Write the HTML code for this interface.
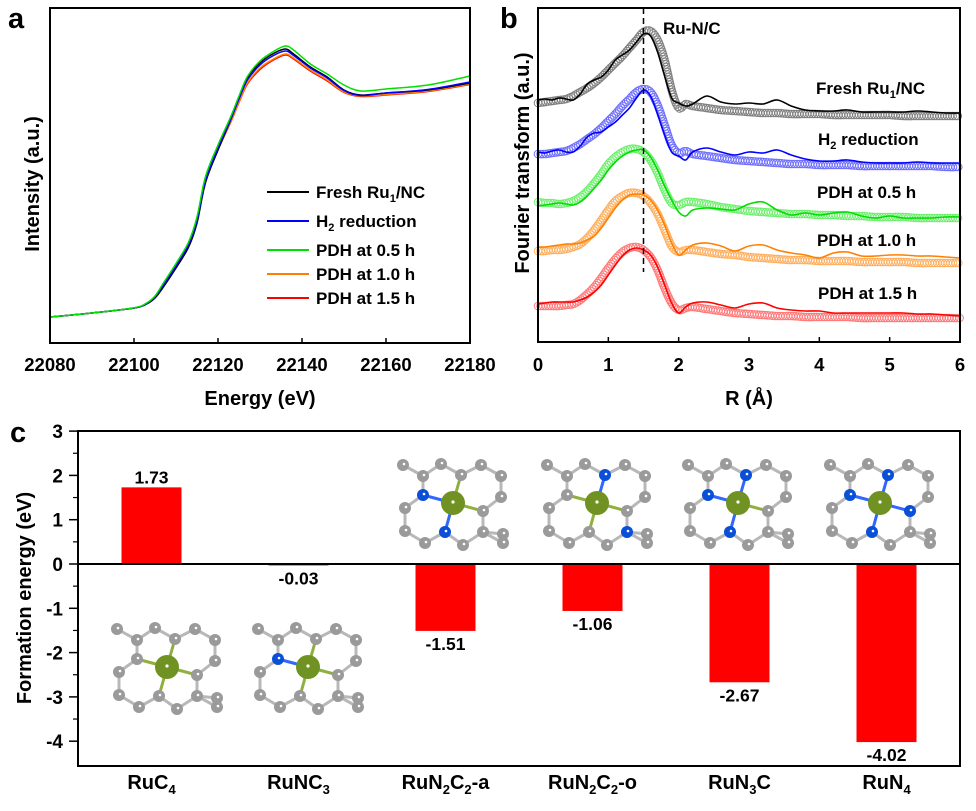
<!DOCTYPE html>
<html><head><meta charset="utf-8">
<style>
html,body{margin:0;padding:0;background:#fff;}
svg{display:block;font-family:"Liberation Sans",Arial,sans-serif;font-weight:bold;}
</style></head>
<body>
<svg id="fig" width="976" height="811" viewBox="0 0 976 811" xmlns="http://www.w3.org/2000/svg">
  <text x="8" y="28" font-size="29">a</text>
  <text x="500" y="28" font-size="29">b</text>
  <text x="10" y="442" font-size="29">c</text>
  <g id="pa"></g>
  <g id="pb"></g>
  <g id="pc"></g>
</svg>
<script>
// ---------- Panel a data ----------
const aEnergy = [22080,22090,22100,22103,22105,22107,22110,22113,22115,22117,22120,22123,22125,22127,22130,22133,22136,22138,22142,22146,22150,22154,22160,22170,22180];
const aFresh = [0,0.016,0.036,0.052,0.076,0.12,0.196,0.28,0.376,0.536,0.668,0.788,0.876,0.956,1.016,1.052,1.072,1.052,1.0,0.96,0.908,0.888,0.896,0.908,0.936];
const aH2    = [0,0.016,0.036,0.054,0.08,0.128,0.204,0.29,0.386,0.544,0.676,0.79,0.872,0.948,1.008,1.044,1.064,1.046,0.996,0.956,0.906,0.886,0.896,0.91,0.94];
const aPDH05 = [0,0.016,0.037,0.056,0.084,0.136,0.214,0.3,0.4,0.56,0.688,0.8,0.884,0.962,1.024,1.06,1.084,1.068,1.012,0.972,0.928,0.904,0.912,0.928,0.964];
const aPDH10 = [0,0.016,0.036,0.054,0.08,0.126,0.2,0.286,0.382,0.54,0.668,0.78,0.86,0.936,0.996,1.03,1.052,1.036,0.988,0.948,0.9,0.884,0.89,0.904,0.932];
const aPDH15 = [0,0.016,0.036,0.054,0.08,0.126,0.2,0.286,0.382,0.54,0.668,0.778,0.858,0.932,0.99,1.026,1.048,1.032,0.984,0.944,0.898,0.882,0.888,0.902,0.93];
const aTicks = [22080,22100,22120,22140,22160,22180];
const aSeriesNames = ["Fresh Ru₁/NC","H₂ reduction","PDH at 0.5 h","PDH at 1.0 h","PDH at 1.5 h"];

// ---------- Panel b data ----------
const bR = [0,0.1,0.2,0.3,0.4,0.5,0.6,0.7,0.8,0.9,1.0,1.1,1.2,1.3,1.4,1.5,1.6,1.7,1.8,1.9,2.0,2.1,2.2,2.4,2.6,2.8,3.0,3.2,3.4,3.6,3.8,4.0,4.2,4.4,4.6,4.8,5.0,5.2,5.4,5.6,5.8,6.0];
const bFreshExp = [100,99,100,98,99,100,94,84,80,77,70,60,55,50,42,34,36,52,76,98,103,106,104,96,102,104,103,104,100,106,110,111,111,110,112,112,112,112,111,112,113,113];
const bFreshFit = [103,102,101,100,99,96,92,88,83,77,70,63,56,48,40,32,31,40,60,90,108,104,106,108,110,111,112,113,113,114,114,114,115,115,115,115,115,116,116,116,116,116];
const bH2Exp = [152,153,151,150,152,152,146,137,133,132,127,122,115,108,98,90,96,114,135,152,156,160,152,148,152,155,152,153,150,155,159,161,161,160,162,163,163,163,162,163,163,163];
const bH2Fit = [154,154,153,152,151,148,144,139,134,128,121,114,106,99,92,89,92,105,125,145,153,151,154,156,158,160,161,162,163,164,164,165,165,165,166,166,166,166,166,166,167,167];
const bP05Exp = [206,205,204,203,204,205,202,196,188,180,170,162,156,152,150,150,157,170,186,200,212,216,210,208,209,210,204,202,210,215,213,215,213,212,216,218,216,218,218,218,217,217];
const bP05Fit = [202,203,203,204,203,201,197,191,183,174,164,157,152,149,149,152,160,173,190,203,205,202,202,204,207,209,211,212,213,214,214,215,215,216,216,217,217,217,218,218,218,218];
const bP10Exp = [247,247,246,245,244,244,243,240,236,228,218,208,200,195,194,195,200,210,225,243,255,250,245,243,246,251,246,245,250,253,255,258,253,252,256,256,255,255,256,256,257,258];
const bP10Fit = [251,251,250,250,249,247,244,238,230,220,210,201,196,193,193,196,203,214,230,246,252,250,250,252,254,255,257,258,259,260,260,261,261,261,262,262,262,262,263,263,263,263];
const bP15Exp = [304,303,302,302,302,302,300,297,292,285,275,265,256,250,248,250,255,267,285,303,313,307,303,302,305,308,304,303,308,310,311,311,313,313,313,313,313,313,314,314,315,316];
const bP15Fit = [306,306,306,306,305,304,300,294,287,278,268,259,252,248,247,250,257,270,288,303,310,308,307,309,311,313,314,315,316,316,317,317,317,317,318,318,318,318,318,318,318,318];
const bTicks = [0,1,2,3,4,5,6];
const bLabels = ["Fresh Ru₁/NC","H₂ reduction","PDH at 0.5 h","PDH at 1.0 h","PDH at 1.5 h"];

// ---------- Panel c data ----------
const cCategories = ["RuC4","RuNC3","RuN2C2-a","RuN2C2-o","RuN3C","RuN4"];
const cValues = [1.73,-0.03,-1.51,-1.06,-2.67,-4.02];
const cValueLabels = ["1.73","-0.03","-1.51","-1.06","-2.67","-4.02"];
const cTicks = [3,2,1,0,-1,-2,-3,-4];

const NS = "http://www.w3.org/2000/svg";
function el(parent, tag, attrs, text){
  const e = document.createElementNS(NS, tag);
  for (const k in attrs) e.setAttribute(k, attrs[k]);
  if (text !== undefined) e.textContent = text;
  parent.appendChild(e);
  return e;
}
function smoothPath(pts){
  let d = "M" + pts[0][0].toFixed(2) + "," + pts[0][1].toFixed(2);
  for (let i = 0; i < pts.length - 1; i++){
    const p0 = pts[i-1] || pts[i], p1 = pts[i], p2 = pts[i+1], p3 = pts[i+2] || p2;
    const c1x = p1[0] + (p2[0]-p0[0])/6, c1y = p1[1] + (p2[1]-p0[1])/6;
    const c2x = p2[0] - (p3[0]-p1[0])/6, c2y = p2[1] - (p3[1]-p1[1])/6;
    d += " C" + c1x.toFixed(2)+","+c1y.toFixed(2)+" "+c2x.toFixed(2)+","+c2y.toFixed(2)+" "+p2[0].toFixed(2)+","+p2[1].toFixed(2);
  }
  return d;
}

// ================= Panel A =================
(function(){
  const g = document.getElementById("pa");
  const L=50, R=470, T=8, B=343;
  const xA = e => L + (e-22080)/(22180-22080)*(R-L);
  const yA = v => B - (v - (-0.104))/(1.236-(-0.104))*(B-T);
  const series = [aFresh,aH2,aPDH05,aPDH10,aPDH15];
  const colors = ["#000000","#0000ff","#00e000","#ff8000","#ff0000"];
  const order = [4,3,0,1,2];
  order.forEach(i=>{
    const pts = aEnergy.map((e,j)=>[xA(e), yA(series[i][j])]);
    const p = el(g,"path",{d:smoothPath(pts),fill:"none",stroke:colors[i],"stroke-width":1.5});
    
    
  });
  const fr = el(g,"rect",{x:L,y:T,width:R-L,height:B-T,fill:"none",stroke:"#000","stroke-width":2});
  
  
  aTicks.forEach(t=>{
    const x = xA(t);
    el(g,"line",{x1:x,y1:B,x2:x,y2:B-5,stroke:"#000","stroke-width":1.5});
    const tx = el(g,"text",{x:x,y:371,"font-size":18.5,"text-anchor":"middle"},String(t));
    
    
  });
  const xt = el(g,"text",{x:260,y:405,"font-size":20,"text-anchor":"middle"},"Energy (eV)");
  
  
  const yt = el(g,"text",{x:0,y:0,"font-size":20,"text-anchor":"middle",transform:"translate(39,184) rotate(-90)"},"Intensity (a.u.)");
  
  
  const ly = [192,221,250,274,298];
  aSeriesNames.forEach((n,i)=>{
    const lg = el(g,"g",{});
    
    
    el(lg,"line",{x1:267,y1:ly[i],x2:309,y2:ly[i],stroke:colors[i],"stroke-width":2});
    const t = el(lg,"text",{x:316,y:ly[i]+6,"font-size":17});
    if (i===0){ t.textContent="Fresh Ru"; el(t,"tspan",{"font-size":11,dy:4},"1"); el(t,"tspan",{dy:-4},"/NC"); }
    else if (i===1){ t.textContent="H"; el(t,"tspan",{"font-size":11,dy:4},"2"); el(t,"tspan",{dy:-4}," reduction"); }
    else t.textContent=n;
  });
})();

// ================= Panel B =================
(function(){
  const g = document.getElementById("pb");
  const L=538, R=960, T=8, B=342;
  const xB = r => L + r/6*(R-L);
  const yB = v => T + (v-8)/(342-8)*(B-T);
  const fits = [bFreshFit,bH2Fit,bP05Fit,bP10Fit,bP15Fit];
  const exps = [bFreshExp,bH2Exp,bP05Exp,bP10Exp,bP15Exp];
  const lineC = ["#000000","#0000ff","#00dd00","#ff8000","#ff0000"];
  const circC = ["#808080","#7070ff","#70f070","#ffb060","#ff7a7a"];
  for (let i=0;i<5;i++){
    const fpts = bR.map((r,j)=>[xB(r), yB(fits[i][j])]);
    const guide = el(g,"path",{d:smoothPath(fpts),fill:"none",stroke:"none"});
    const len = guide.getTotalLength();
    const cg = el(g,"g",{fill:"none",stroke:circC[i],"stroke-width":1});
    
    
    for (let s=0; s<=len; s+=2.6){
      const p = guide.getPointAtLength(s);
      el(cg,"circle",{cx:p.x.toFixed(1),cy:p.y.toFixed(1),r:3.8});
    }
    const epts = bR.map((r,j)=>[xB(r), yB(exps[i][j])]);
    const ln = el(g,"path",{d:smoothPath(epts),fill:"none",stroke:lineC[i],"stroke-width":1.6});
    
    
  }
  const dl = el(g,"line",{x1:xB(1.5),y1:T,x2:xB(1.5),y2:272,stroke:"#000","stroke-width":1.5,"stroke-dasharray":"6,4"});
  
  
  const fr = el(g,"rect",{x:L,y:T,width:R-L,height:B-T,fill:"none",stroke:"#000","stroke-width":2});
  
  
  bTicks.forEach(t=>{
    const x = xB(t);
    el(g,"line",{x1:x,y1:B,x2:x,y2:B-5,stroke:"#000","stroke-width":1.5});
    const tx = el(g,"text",{x:x,y:371,"font-size":18.5,"text-anchor":"middle"},String(t));
    
    
  });
  const xt = el(g,"text",{x:749,y:405,"font-size":20,"text-anchor":"middle"},"R (Å)");
  
  
  const yt = el(g,"text",{x:0,y:0,"font-size":20,"text-anchor":"middle",transform:"translate(529,163) rotate(-90)"},"Fourier transform (a.u.)");
  
  
  const ru = el(g,"text",{x:663,y:34,"font-size":17},"Ru-N/C");
  
  
  const lx = [816,818,817,817,818], lyy = [94,145,198,246,299];
  bLabels.forEach((n,i)=>{
    const t = el(g,"text",{x:lx[i],y:lyy[i],"font-size":17});
    
    
    if (i===0){ t.textContent="Fresh Ru"; el(t,"tspan",{"font-size":11,dy:4},"1"); el(t,"tspan",{dy:-4},"/NC"); }
    else if (i===1){ t.textContent="H"; el(t,"tspan",{"font-size":11,dy:4},"2"); el(t,"tspan",{dy:-4}," reduction"); }
    else t.textContent=n;
  });
})();

// ================= Panel C =================
(function(){
  const g = document.getElementById("pc");
  const L=78, R=960, T=431, B=766;
  const yC = v => 564 - v*44.3;
  const band = (R-L)/cCategories.length;
  const xC = i => L + band*(i+0.5);
  const bw = 60;
  const atoms = [[-50,-38],[-12,-39],[28,-38],[-30,-27],[8,-28],[48,-27],[-30,-8],[48,-6],[-48,5],[30,8],[-48,28],[-8,29],[30,29],[50,31],[-28,40],[10,42],[50,40]];
  const nSets = [[],[6],[6,11],[4,12],[6,4,11],[6,4,9,11]];
  const molC = [[167,667],[308,667],[453,503],[597,503],[738,503],[880,503]];
  molC.forEach((c,mi)=>{
    const mg = el(g,"g",{});
    
    
    const pts = atoms.map(a=>[c[0]+a[0], c[1]+a[1]]);
    for (let i=0;i<pts.length;i++) for (let j=i+1;j<pts.length;j++){
      const d = Math.hypot(pts[i][0]-pts[j][0], pts[i][1]-pts[j][1]);
      if (d < 26) el(mg,"line",{x1:pts[i][0],y1:pts[i][1],x2:pts[j][0],y2:pts[j][1],stroke:"#b8b8b8","stroke-width":3});
    }
    [6,4,9,11].forEach(k=>{
      const col = nSets[mi].includes(k) ? "#3366ff" : "#8fb040";
      el(mg,"line",{x1:c[0],y1:c[1],x2:pts[k][0],y2:pts[k][1],stroke:col,"stroke-width":3});
    });
    pts.forEach((p,k)=>{
      const isN = nSets[mi].includes(k);
      el(mg,"circle",{cx:p[0],cy:p[1],r:6,fill:isN?"#0a4fd8":"#9a9a9a"});
      el(mg,"circle",{cx:p[0]+1,cy:p[1]-1,r:1.3,fill:"#fff"});
    });
    el(mg,"circle",{cx:c[0],cy:c[1],r:12,fill:"#6f9222"});
    el(mg,"circle",{cx:c[0],cy:c[1]-1,r:1.6,fill:"#fff"});
  });
  cValues.forEach((v,i)=>{
    const y0 = yC(0), y1 = yC(v);
    const b = el(g,"rect",{x:xC(i)-bw/2,y:Math.min(y0,y1),width:bw,height:Math.max(Math.abs(y1-y0),1.5),fill:"#ff0000"});
    
    
    const ty = v >= 0 ? y1 - 4 : y1 + 19;
    const t = el(g,"text",{x:xC(i),y:ty,"font-size":17.5,"text-anchor":"middle"},cValueLabels[i]);
    
    
  });
  const zl = el(g,"line",{x1:L,y1:yC(0),x2:R,y2:yC(0),stroke:"#000","stroke-width":2});
  
  
  const fr = el(g,"rect",{x:L,y:T,width:R-L,height:B-T,fill:"none",stroke:"#000","stroke-width":2});
  
  
  cTicks.forEach(t=>{
    const y = yC(t);
    el(g,"line",{x1:L-9,y1:y,x2:L,y2:y,stroke:"#000","stroke-width":1.5});
    if (t > -4) el(g,"line",{x1:L-5,y1:yC(t-0.5),x2:L,y2:yC(t-0.5),stroke:"#000","stroke-width":1.2});
    const tx = el(g,"text",{x:L-15,y:y+7,"font-size":19,"text-anchor":"end"},String(t));
    
    
  });
  const yt = el(g,"text",{x:0,y:0,"font-size":20,"text-anchor":"middle",transform:"translate(31,598) rotate(-90)"},"Formation energy (eV)");
  
  
  const labParts = [[["Ru"],["C","4"]],[["RuN"],["C","3"]],[["Ru"],["N","2"],["C","2"],["-a"]],[["Ru"],["N","2"],["C","2"],["-o"]],[["Ru"],["N","3"],["C"]],[["Ru"],["N","4"]]];
  labParts.forEach((parts,i)=>{
    const t = el(g,"text",{x:xC(i),y:789,"font-size":20,"text-anchor":"middle"});
    
    
    let sub = false;
    parts.forEach(p=>{
      el(t,"tspan",{dy: sub ? -5 : 0},p[0]);
      sub = false;
      if (p[1]){ el(t,"tspan",{"font-size":13,dy:5},p[1]); sub = true; }
    });
  });
})();
</script>
</body></html>
